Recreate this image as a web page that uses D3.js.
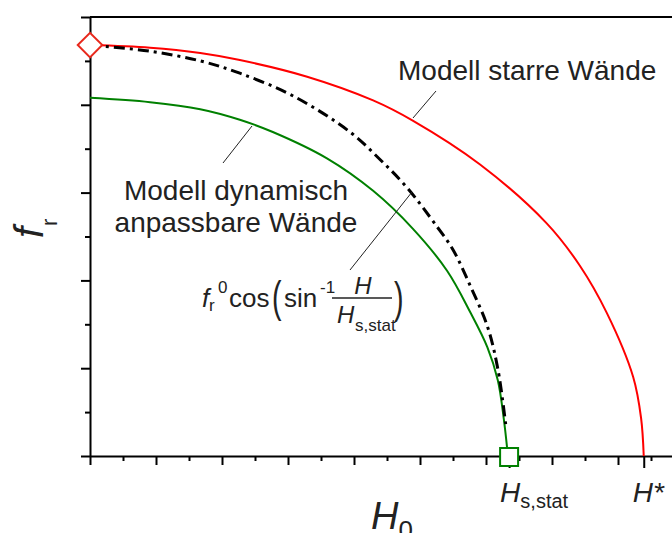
<!DOCTYPE html>
<html>
<head>
<meta charset="utf-8">
<script src="https://cdnjs.cloudflare.com/ajax/libs/d3/7.8.5/d3.min.js"></script>
<style>
  body { margin: 0; background: #ffffff; }
  svg { display: block; overflow: hidden; }
  text { font-family: "Liberation Sans", Arial, sans-serif; fill: #222222; }
  .it { font-style: italic; }
  .domain, .tick line { stroke: #000000; stroke-width: 2; }
</style>
</head>
<body>
<div id="chart"></div>
<script>
// ------------------ data (H, f_r) ------------------
var redH   = [0, 0.91, 1.67, 2.27, 3.29, 4.29, 4.89, 5.91, 6.92, 7.42, 7.83, 8.23, 8.35, 8.39];
var redF   = [4.68, 4.65, 4.59, 4.51, 4.32, 4.05, 3.82, 3.32, 2.65, 2.17, 1.63, 0.90, 0.43, 0];

var blackH = [0, 0.91, 1.67, 2.27, 3.08, 3.94, 4.39, 4.80, 5.26, 5.50, 5.76, 6.02, 6.18, 6.30];
var blackF = [4.68, 4.61, 4.50, 4.36, 4.10, 3.69, 3.38, 3.06, 2.61, 2.35, 1.94, 1.48, 0.99, 0.35];

var greenH = [0, 0.91, 1.67, 2.27, 2.77, 3.59, 4.29, 4.89, 5.41, 5.76, 6.02, 6.18, 6.27, 6.32];
var greenF = [4.08, 4.03, 3.95, 3.83, 3.69, 3.39, 3.02, 2.59, 2.11, 1.64, 1.24, 0.86, 0.42, 0.09];

var hStat = 6.35;   // H_s,stat
var hStar = 8.39;   // H*
var xMajor = [0, 1, 2, 3, 4, 5, 6, 7, 8];
var xMinor = [0.5, 1.5, 2.5, 3.5, 4.5, 5.5, 6.5, 7.5, 8.5];
var yMajor = [0, 1, 2, 3, 4, 5];
var yMinor = [0.5, 1.5, 2.5, 3.5, 4.5];

// ------------------ svg + scales ------------------
var W = 672, H = 533;
var svg = d3.select('#chart').append('svg').attr('width', W).attr('height', H);

var x = d3.scaleLinear().domain([0, 9]).range([90, 684]);
var y = d3.scaleLinear().domain([0, 5]).range([456, 17]);

// ------------------ axes ------------------
svg.append('g').attr('transform', 'translate(0,456)')
   .call(d3.axisBottom(x).tickValues(xMinor).tickSize(5).tickFormat(''))
   .call(g => g.select('.domain').remove());
svg.append('g').attr('transform', 'translate(0,456)')
   .call(d3.axisBottom(x).tickValues([hStat, hStar]).tickSize(12).tickFormat(''))
   .call(g => g.select('.domain').remove());
svg.append('g').attr('transform', 'translate(0,456)')
   .call(d3.axisBottom(x).tickValues(xMajor).tickSize(9).tickSizeOuter(0).tickFormat(''));

svg.append('g').attr('transform', 'translate(90,0)')
   .call(d3.axisLeft(y).tickValues(yMinor).tickSize(5).tickFormat(''))
   .call(g => g.select('.domain').remove());
svg.append('g').attr('transform', 'translate(90,0)')
   .call(d3.axisLeft(y).tickValues(yMajor).tickSize(9).tickSizeOuter(0).tickFormat(''));

// top frame line
svg.append('line').attr('x1', x(0)).attr('x2', x(9)).attr('y1', y(5)).attr('y2', y(5))
   .attr('stroke', '#000').attr('stroke-width', 2);

// ------------------ curves ------------------
var line = d3.line().x(d => x(d[0])).y(d => y(d[1])).curve(d3.curveCatmullRom.alpha(0.5));

svg.append('path').datum(d3.zip(greenH, greenF)).attr('d', line)
   .attr('fill', 'none').attr('stroke', '#008000').attr('stroke-width', 2);
svg.append('path').datum(d3.zip(redH, redF)).attr('d', line)
   .attr('fill', 'none').attr('stroke', '#ff0000').attr('stroke-width', 2);
svg.append('path').datum(d3.zip(blackH, blackF)).attr('d', line)
   .attr('fill', 'none').attr('stroke', '#000').attr('stroke-width', 3)
   .attr('stroke-dasharray', '11,5,3,5');

// markers
svg.append('path').attr('d', d3.symbol(d3.symbolSquare, 300)())
   .attr('transform', `translate(${x(0)},${y(redF[0])}) rotate(45)`)
   .attr('fill', '#fff').attr('stroke', '#e8281c').attr('stroke-width', 2);
svg.append('rect').attr('x', x(hStat) - 9).attr('y', y(0) - 8).attr('width', 18).attr('height', 18)
   .attr('fill', '#fff').attr('stroke', '#008000').attr('stroke-width', 2);

// ------------------ leader lines ------------------
var leaders = [[436, 91, 413, 118], [223, 163, 252, 126], [350, 270, 412, 192]];
svg.selectAll('.lead').data(leaders).enter().append('line')
   .attr('x1', d => d[0]).attr('y1', d => d[1]).attr('x2', d => d[2]).attr('y2', d => d[3])
   .attr('stroke', '#222').attr('stroke-width', 1);

// ------------------ labels ------------------
svg.append('text').attr('x', 398).attr('y', 80).style('font-size', '28px').text('Modell starre Wände');
svg.append('text').attr('x', 236).attr('y', 200).attr('text-anchor', 'middle').style('font-size', '28px').text('Modell dynamisch');
svg.append('text').attr('x', 236).attr('y', 232).attr('text-anchor', 'middle').style('font-size', '28px').text('anpassbare Wände');

// formula f_r^0 cos(sin^-1 H/H_s,stat)
var fm = svg.append('g');
fm.append('text').attr('class', 'it').attr('x', 202).attr('y', 307).style('font-size', '26px').text('f');
fm.append('text').attr('x', 209).attr('y', 311).style('font-size', '17px').text('r');
fm.append('text').attr('x', 218).attr('y', 293).style('font-size', '17px').text('0');
fm.append('text').attr('x', 229).attr('y', 307).style('font-size', '26px').text('cos');
fm.append('text').attr('transform', 'translate(272,300) scale(1.3,2.05)').attr('y', 5.7).style('font-size', '22px').text('(');
fm.append('text').attr('x', 284).attr('y', 307).style('font-size', '26px').text('sin');
fm.append('text').attr('x', 320).attr('y', 293).style('font-size', '17px').text('-1');
fm.append('text').attr('class', 'it').attr('x', 363).attr('y', 294).attr('text-anchor', 'middle').style('font-size', '24px').text('H');
fm.append('line').attr('x1', 332).attr('x2', 392).attr('y1', 298).attr('y2', 298).attr('stroke', '#222').attr('stroke-width', 1.5);
fm.append('text').attr('class', 'it').attr('x', 337).attr('y', 323).style('font-size', '24px').text('H');
fm.append('text').attr('x', 355).attr('y', 331).style('font-size', '17px').text('s,stat');
fm.append('text').attr('transform', 'translate(394,301) scale(1.3,2.05)').attr('y', 5.7).style('font-size', '22px').text(')');

// tick labels at H_s,stat and H*
var tl = svg.append('text').attr('x', x(hStat) - 9).attr('y', 502).style('font-size', '28px');
tl.append('tspan').attr('class', 'it').text('H');
tl.append('tspan').attr('dy', 6).style('font-size', '20px').text('s,stat');
svg.append('text').attr('class', 'it').attr('x', x(hStar) - 11).attr('y', 502).style('font-size', '28px').text('H*');

// axis titles
var xt = svg.append('text').attr('x', 371).attr('y', 529).style('font-size', '38px');
xt.append('tspan').attr('class', 'it').text('H');
xt.append('tspan').attr('dy', 10).style('font-size', '26px').text('0');

var yt = svg.append('text').attr('transform', 'translate(43,238) rotate(-90)').style('font-size', '40px');
yt.append('tspan').attr('class', 'it').text('f');
yt.append('tspan').attr('dx', 1).attr('dy', 14).style('font-size', '22px').text('r');
</script>
</body>
</html>
